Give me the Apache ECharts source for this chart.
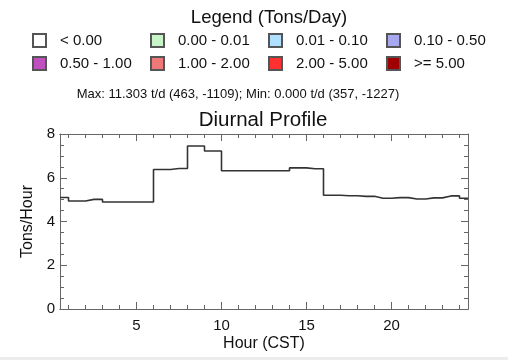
<!DOCTYPE html>
<html>
<head>
<meta charset="utf-8">
<script src="https://cdn.jsdelivr.net/npm/echarts@6/dist/echarts.min.js"></script>
<style>
  html, body { margin: 0; padding: 0; background: #fff; }
  #chart { width: 508px; height: 360px; }
</style>
</head>
<body>
<div id="chart"></div>
<script>
// step centres (hour, CST) and tons/hour for each step
var hours = [0.5, 1.5, 2.5, 3.5, 4.5, 5.5, 6.5, 7.5, 8.5, 9.5, 10.5, 11.5, 12.5,
             13.5, 14.5, 15.5, 16.5, 17.5, 18.5, 19.5, 20.5, 21.5, 22.5, 23.5, 24.5];
var tonsPerHour = [5.10, 4.94, 5.01, 4.89, 4.89, 4.89, 6.38, 6.42, 7.45, 7.22, 6.32, 6.32, 6.32,
                   6.32, 6.45, 6.41, 5.20, 5.18, 5.15, 5.06, 5.09, 5.03, 5.08, 5.17, 5.06];

var legendNames = ['< 0.00', '0.00 - 0.01', '0.01 - 0.10', '0.10 - 0.50',
                   '0.50 - 1.00', '1.00 - 2.00', '2.00 - 5.00', '>= 5.00'];
var legendColors = ['#ffffff', '#c8f5c8', '#b0e0ff', '#a8a8f0',
                    '#c050c0', '#f07878', '#ff3030', '#a00000'];

var majorHours = [5, 10, 15, 20];
var minorHours = [1, 2, 3, 4, 6, 7, 8, 9, 11, 12, 13, 14, 16, 17, 18, 19, 21, 22, 23, 24];

var font = 'Liberation Sans';
var frame = '#666';

var chart = echarts.init(document.getElementById('chart'));

function xAx(pos, ticks, len, labels) {
  return {
    type: 'value', position: pos, min: 0.5, max: 24.5,
    axisLine: { show: true, lineStyle: { color: frame, width: 1 } },
    axisTick: { show: true, inside: true, length: len, customValues: ticks,
                lineStyle: { color: frame, width: 1 } },
    axisLabel: labels ? { show: true, customValues: majorHours, margin: 9,
                          color: '#111', fontSize: 15, fontFamily: font }
                      : { show: false },
    splitLine: { show: false }
  };
}

function yAx(pos, labels) {
  return {
    type: 'value', position: pos, min: 0, max: 8, interval: 2,
    axisLine: { show: true, lineStyle: { color: frame, width: 1 } },
    axisTick: { show: true, inside: true, length: 7, lineStyle: { color: frame, width: 1 } },
    minorTick: { show: true, splitNumber: 4, length: 4, lineStyle: { color: frame, width: 1 } },
    axisLabel: { show: labels, margin: 5, color: '#111', fontSize: 15, fontFamily: font },
    splitLine: { show: false },
    name: labels ? 'Tons/Hour' : '',
    nameLocation: 'middle', nameGap: 22,
    nameTextStyle: { color: '#111', fontSize: 16, fontFamily: font }
  };
}

var series = [{
  type: 'line',
  step: 'middle',
  data: hours.map(function (h, i) { return [h, tonsPerHour[i]]; }),
  showSymbol: false,
  lineStyle: { color: '#333', width: 1.6 },
  xAxisIndex: 0, yAxisIndex: 0,
  silent: true,
  z: 3
}];
legendNames.forEach(function (n, i) {
  series.push({
    type: 'scatter', name: n, data: [],
    itemStyle: { color: legendColors[i], borderColor: '#555', borderWidth: 1, opacity: 1 }
  });
});

// one legend per entry, laid out as 2 rows x 4 columns
var legends = legendNames.map(function (n, i) {
  return {
    data: [n], left: 32 + (i % 4) * 118, top: i < 4 ? 33 : 56,
    icon: 'rect', padding: 0, itemWidth: 13, itemHeight: 13,
    selectedMode: false,
    textStyle: { color: '#111', fontSize: 15, fontFamily: font, padding: [0, 0, 0, 9] }
  };
});

var option = {
  backgroundColor: '#fff',
  animation: false,
  title: [
    { text: 'Legend (Tons/Day)', left: 269, top: 8, textAlign: 'center', padding: 0,
      textStyle: { color: '#111', fontSize: 18.5, fontWeight: 'normal', fontFamily: font } },
    { text: 'Max: 11.303 t/d (463, -1109); Min: 0.000 t/d (357, -1227)', left: 238, top: 88,
      textAlign: 'center', padding: 0,
      textStyle: { color: '#111', fontSize: 13, fontWeight: 'normal', fontFamily: font } },
    { text: 'Diurnal Profile', left: 263, top: 110, textAlign: 'center', padding: 0,
      textStyle: { color: '#111', fontSize: 20.5, fontWeight: 'normal', fontFamily: font } }
  ],
  legend: legends,
  grid: { left: 60, right: 40, top: 134, bottom: 51, containLabel: false },
  xAxis: [
    Object.assign(xAx('bottom', majorHours, 7, true),
      { name: 'Hour (CST)', nameLocation: 'middle', nameGap: 27,
        nameTextStyle: { color: '#111', fontSize: 16, fontFamily: font } }),
    xAx('bottom', minorHours, 4, false),
    xAx('top', majorHours, 7, false),
    xAx('top', minorHours, 4, false)
  ],
  yAxis: [yAx('left', true), yAx('right', false)],
  graphic: [{
    type: 'rect', left: 0, top: 357, shape: { width: 508, height: 3 },
    style: { fill: '#ececec' }, silent: true
  }],
  series: series
};

chart.setOption(option);
</script>
</body>
</html>
